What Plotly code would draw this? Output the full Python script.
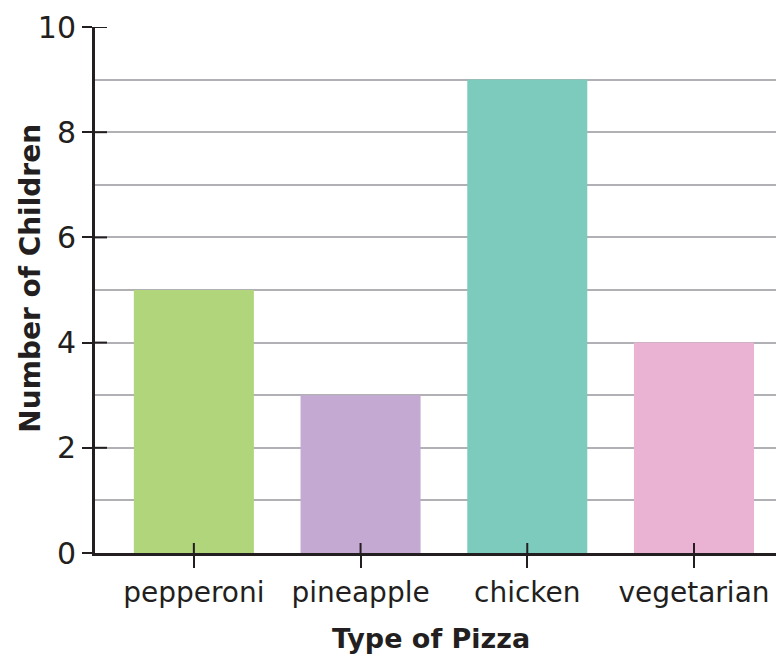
import plotly.graph_objects as go

pizzas = ["pepperoni", "pineapple", "chicken", "vegetarian"]
children = [5, 3, 9, 4]
bar_colors = ["#b0d57a", "#c4aad2", "#7ccbbd", "#ebb3d3"]
y_labels = [0, 2, 4, 6, 8, 10]
x_title = "Type of Pizza"
y_title = "Number of Children"

ink = "#231f20"
font_family = "'DejaVu Sans', Verdana, sans-serif"

fig = go.Figure(
    go.Bar(
        x=pizzas,
        y=children,
        marker=dict(color=bar_colors, line=dict(width=0)),
        width=0.72,
    )
)

# page body has an 8px margin, so size the figure to fill the rest
fig.update_layout(
    width=776,
    height=654,
    margin=dict(l=87, r=0, t=19, b=109),
    plot_bgcolor="white",
    paper_bgcolor="white",
    showlegend=False,
    font=dict(family=font_family, color=ink),
)

fig.update_xaxes(
    range=[-0.593, 3.54],
    showline=True,
    linecolor=ink,
    linewidth=3,
    ticks="outside",
    ticklen=12,
    tickwidth=2,
    tickcolor=ink,
    tickfont=dict(size=28),
    showgrid=False,
)

fig.update_yaxes(
    range=[0, 10],
    tickvals=y_labels,
    showline=True,
    linecolor=ink,
    linewidth=3,
    ticks="outside",
    ticklen=10,
    tickwidth=2,
    tickcolor=ink,
    tickfont=dict(size=30),
    showgrid=True,
    gridcolor="#b1b0b5",
    gridwidth=2,
    minor=dict(dtick=1, showgrid=True, gridcolor="#b1b0b5", gridwidth=2),
    zeroline=False,
)

# axis titles sit a little off-centre in the original, so place them by hand
fig.add_annotation(
    text=f"<b>{x_title}</b>", xref="paper", yref="paper", x=0.487, y=-0.162,
    xanchor="center", yanchor="middle", showarrow=False, font=dict(size=27),
)
fig.add_annotation(
    text=f"<b>{y_title}</b>", xref="paper", yref="paper", x=-0.094, y=0.522,
    xanchor="center", yanchor="middle", showarrow=False, textangle=-90,
    font=dict(size=28),
)

# tick marks also cross into the plot area
for v in y_labels[1:]:
    fig.add_shape(
        type="line", xref="paper", yref="y", xsizemode="pixel", xanchor=0,
        x0=0, x1=12, y0=v, y1=v, line=dict(color=ink, width=2),
    )
for p in pizzas:
    fig.add_shape(
        type="line", xref="x", yref="paper", ysizemode="pixel", yanchor=0,
        x0=p, x1=p, y0=0, y1=10, line=dict(color=ink, width=2),
    )

fig.write_html("out.html")
